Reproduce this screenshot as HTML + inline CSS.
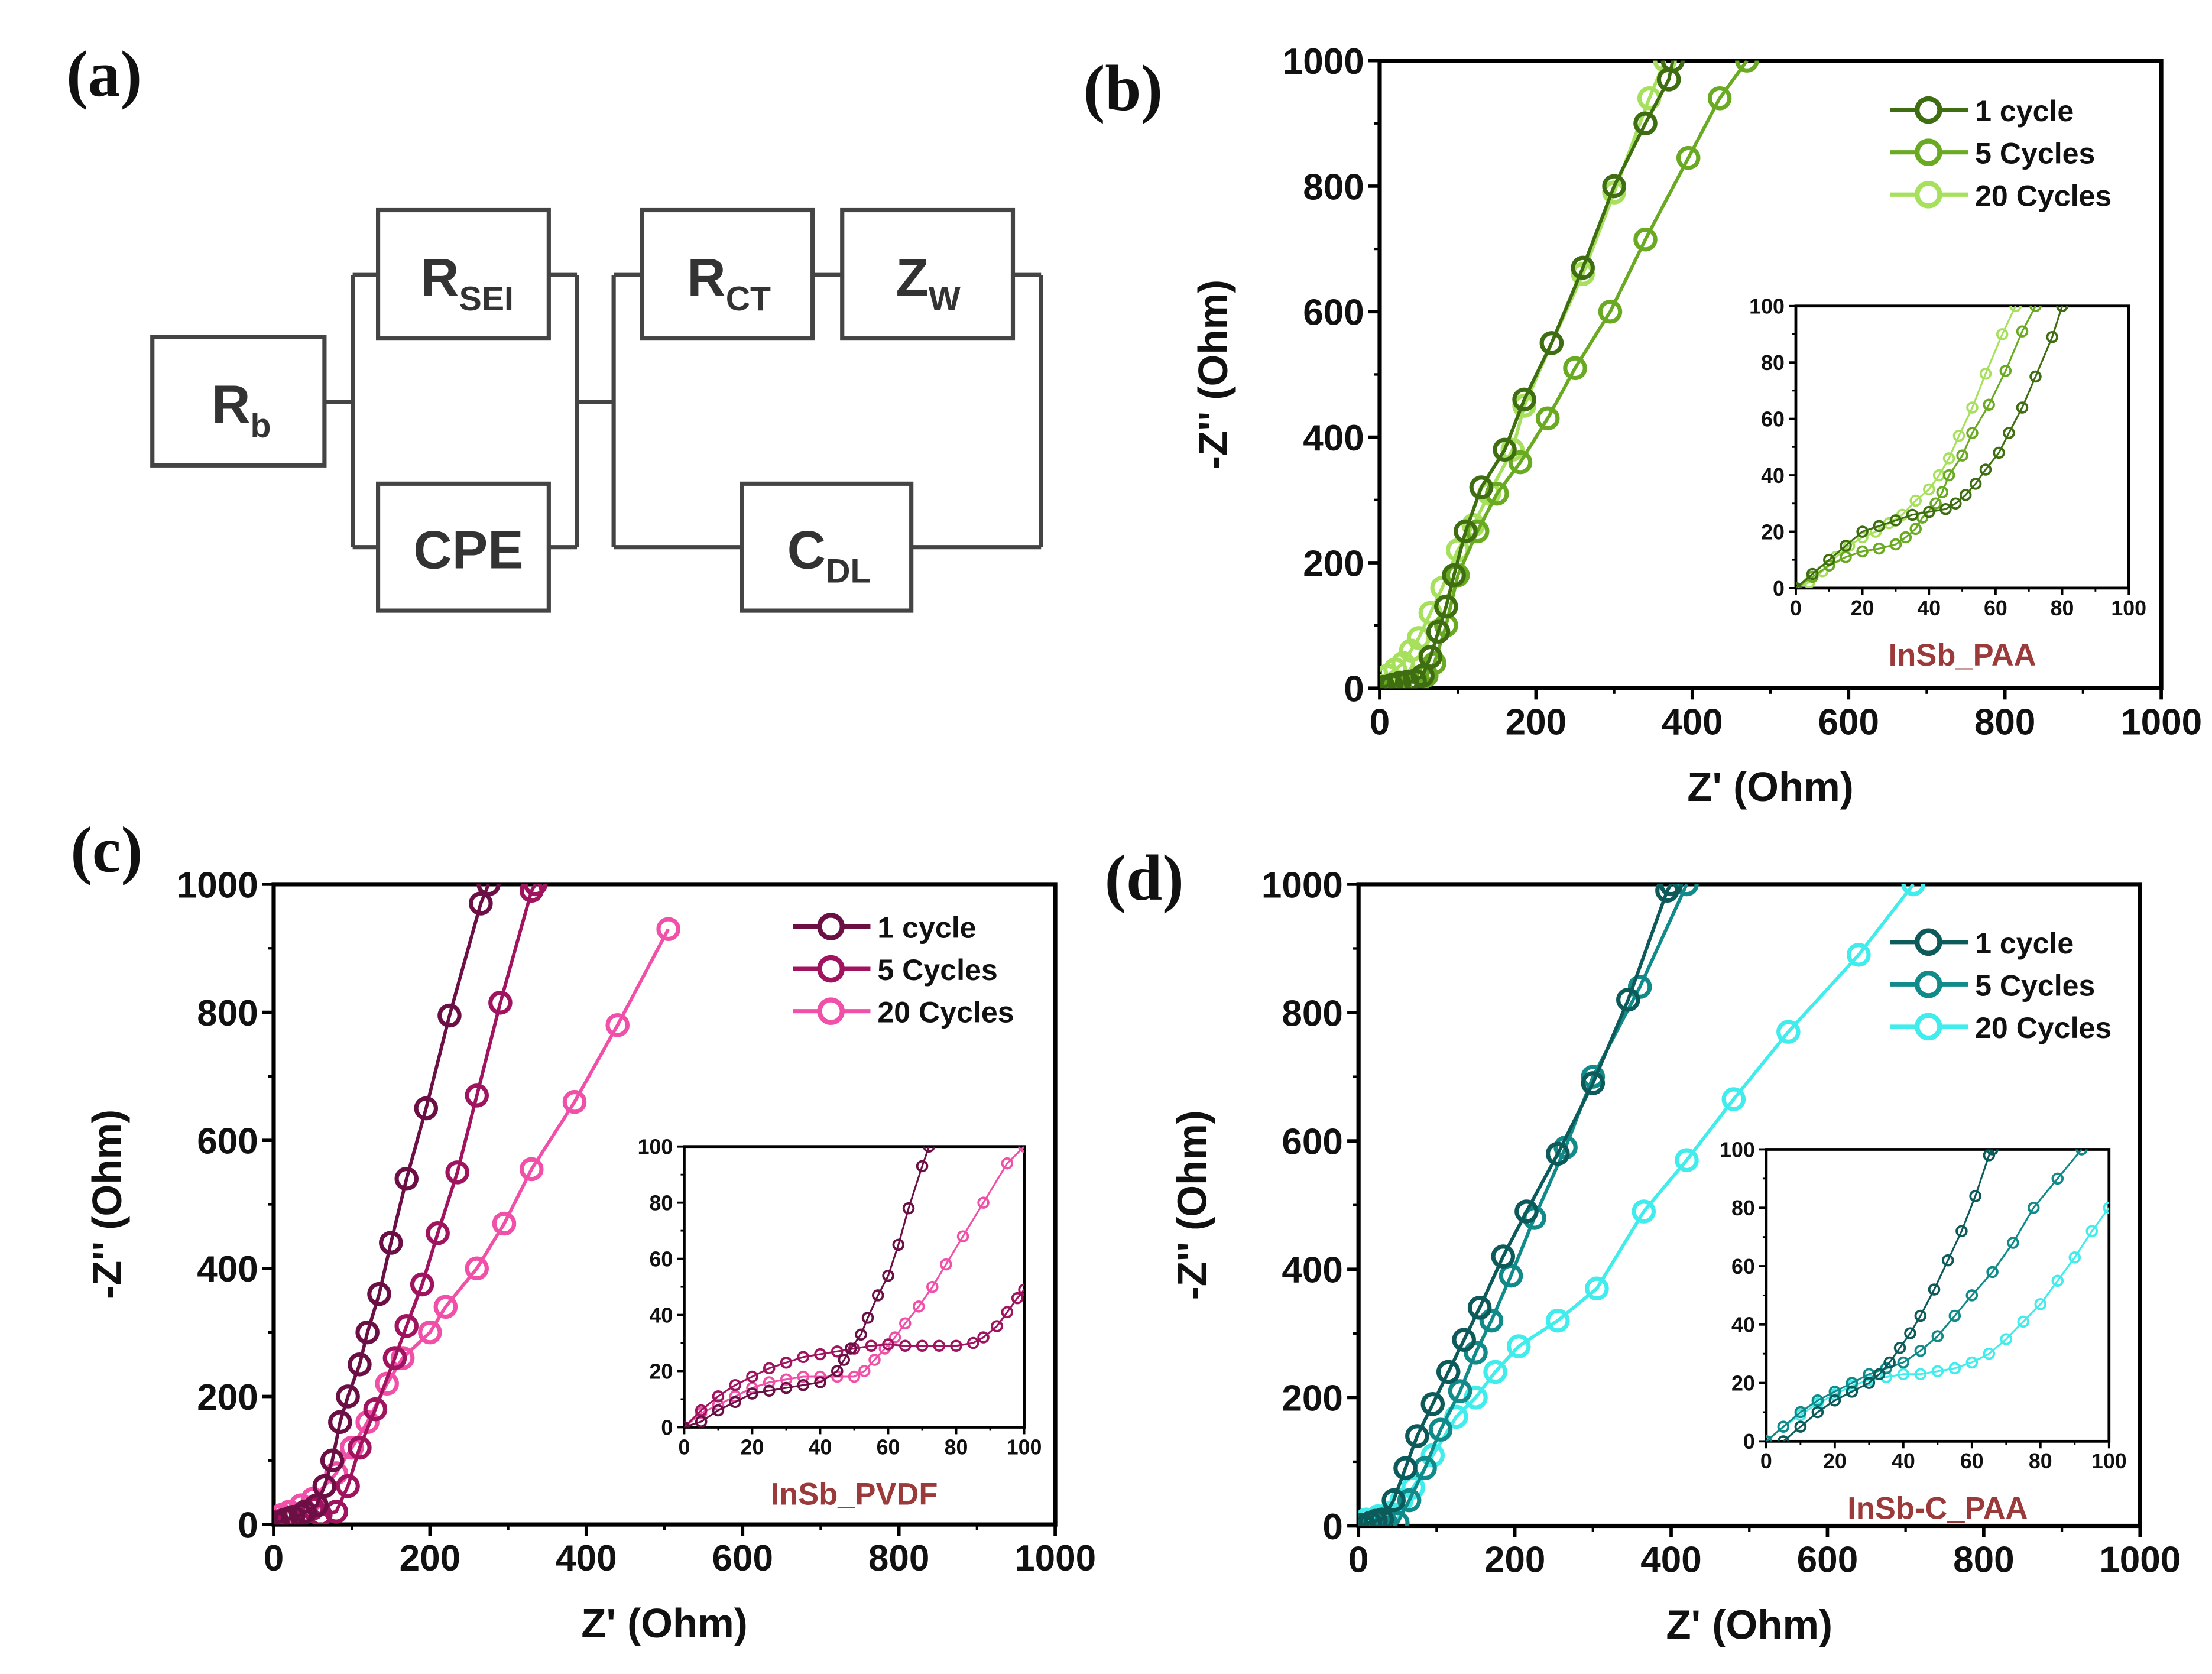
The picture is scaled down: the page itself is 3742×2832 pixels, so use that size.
<!DOCTYPE html>
<html><head><meta charset="utf-8"><style>
html,body{margin:0;padding:0;background:#fff}
svg{display:block}
text{font-family:"Liberation Sans",sans-serif;font-weight:bold}
</style></head><body>
<svg id="fig" xmlns="http://www.w3.org/2000/svg" width="3742" height="2832" viewBox="0 0 1568 1187" preserveAspectRatio="none">
<rect width="1568" height="1187" fill="#fff"/>
<g id="circuit" stroke="#444" stroke-width="3" fill="none">
<path d="M230 285H250M250 195V388M250 195H268M250 388H268M389 195H409M389 388H409M409 195V388M409 285H435M435 195V388M435 195H455M576 195H597M718 195H738M738 195V388M435 388H526M646 388H738"/>
<rect x="108" y="239" width="122" height="91"/>
<rect x="268" y="149" width="121" height="91"/>
<rect x="268" y="343" width="121" height="90"/>
<rect x="455" y="149" width="121" height="91"/>
<rect x="597" y="149" width="121" height="91"/>
<rect x="526" y="343" width="120" height="90"/>
</g>
<g fill="#333" font-size="38">
<text x="150" y="300">R<tspan font-size="24" dy="10">b</tspan></text>
<text x="298" y="210">R<tspan font-size="24" dy="10">SEI</tspan></text>
<text x="293" y="403">CPE</text>
<text x="487" y="210">R<tspan font-size="24" dy="10">CT</tspan></text>
<text x="635" y="210">Z<tspan font-size="24" dy="10">W</tspan></text>
<text x="558" y="403">C<tspan font-size="24" dy="10">DL</tspan></text>
</g>
<g font-size="46" fill="#111">
<text x="47" y="68" style="font-family:'Liberation Serif',serif">(a)</text>
<text x="768" y="78" style="font-family:'Liberation Serif',serif">(b)</text>
<text x="50" y="618" style="font-family:'Liberation Serif',serif">(c)</text>
<text x="783" y="638" style="font-family:'Liberation Serif',serif">(d)</text>
</g>
<g id="charts"></g>
</svg>
<script>
const bNames=["1 cycle","5 Cycles","20 Cycles"];
const bMain1=[[5,2],[15,5],[25,8],[35,10],[45,12],[55,20],[65,50],[75,90],[85,130],[95,180],[110,250],[130,320],[160,380],[185,460],[220,550],[260,670],[300,800],[340,900],[370,970],[375,1000]];
const bMain5=[[5,2],[20,5],[35,8],[50,10],[60,20],[70,40],[85,100],[100,180],[125,250],[150,310],[180,360],[215,430],[250,510],[295,600],[340,715],[395,845],[435,940],[470,1000]];
const bMain20=[[2,3],[10,20],[20,30],[30,40],[40,60],[50,80],[65,120],[80,160],[100,220],[120,260],[140,310],[170,380],[185,450],[220,550],[260,660],[300,790],[345,940],[365,1000]];
const bIn1=[[0,0],[5,5],[10,10],[15,15],[20,20],[25,22],[30,24],[35,26],[40,27],[45,28],[48,30],[51,33],[54,37],[57,42],[61,48],[64,55],[68,64],[72,75],[77,89],[80,100]];
const bIn5=[[0,0],[5,4],[10,8],[15,11],[20,13],[25,14],[30,15.5],[33,18],[36,21],[38,25],[42,30],[44,34],[46,40],[50,47],[53,55],[58,65],[63,77],[68,91],[72,100]];
const bIn20=[[0,0],[4,2],[8,6],[12,11],[16,15],[20,18],[24,20],[28,23],[32,26],[36,31],[40,35],[43,40],[46,46],[49,54],[53,64],[57,76],[62,90],[66,100]];
const cMain1=[[5,3],[15,8],[25,12],[35,15],[40,20],[55,30],[65,60],[75,100],[85,160],[95,200],[110,250],[120,300],[135,360],[150,440],[170,540],[195,650],[225,795],[265,970],[275,1000]];
const cMain5=[[5,5],[20,10],[35,15],[50,25],[60,15],[80,20],[95,60],[110,120],[130,180],[155,260],[170,310],[190,375],[210,455],[235,550],[260,670],[290,815],[330,990],[335,1000]];
const cMain20=[[2,5],[10,15],[20,20],[35,30],[50,40],[65,60],[80,80],[100,120],[120,160],[145,220],[165,260],[200,300],[220,340],[260,400],[295,470],[330,555],[385,660],[440,780],[505,930]];
const cIn1=[[0,0],[5,2],[10,6],[15,9],[20,12],[25,13],[30,14],[35,15],[40,16],[45,20],[47,24],[49,28],[52,33],[54,39],[57,47],[60,54],[63,65],[66,78],[70,93],[72,100]];
const cIn5=[[0,0],[5,6],[10,11],[15,15],[20,18],[25,21],[30,23],[35,25],[40,26],[45,27],[50,28],[55,29],[60,29.5],[65,29],[70,29],[75,29],[80,29],[85,30],[88,32],[92,36],[95,41],[98,46],[100,49]];
const cIn20=[[0,0],[5,5],[10,8],[15,11],[20,14],[25,16],[30,17],[35,18],[40,18],[45,18],[50,18],[53,20],[56,24],[59,28],[62,32],[65,37],[69,43],[73,50],[77,58],[82,68],[88,80],[95,94],[100,100]];
const dMain1=[[5,2],[15,5],[22,8],[30,10],[45,40],[60,90],[75,140],[95,190],[115,240],[135,290],[155,340],[185,420],[215,490],[255,580],[300,690],[345,820],[395,990],[400,1000]];
const dMain5=[[5,2],[20,4],[35,5],[50,5],[65,40],[85,90],[105,150],[130,210],[150,270],[170,320],[195,390],[225,480],[265,590],[300,700],[360,840],[420,1000]];
const dMain20=[[2,3],[10,10],[25,15],[40,20],[55,40],[70,60],[95,110],[125,170],[150,200],[175,240],[205,280],[255,320],[305,370],[365,490],[420,570],[480,665],[550,770],[640,890],[710,1000]];
const dIn1=[[5,0],[10,5],[15,10],[20,14],[25,17],[30,20],[33,23],[36,27],[39,32],[42,37],[45,43],[49,52],[53,62],[57,72],[61,84],[65,98],[66,100]];
const dIn5=[[0,0],[5,5],[10,10],[15,14],[20,17],[25,20],[30,23],[35,25],[40,27],[45,31],[50,36],[55,43],[60,50],[66,58],[72,68],[78,80],[85,90],[92,100]];
const dIn20=[[0,0],[5,5],[10,9],[15,13],[20,16],[25,19],[30,21],[35,22],[40,23],[45,23],[50,24],[55,25],[60,27],[65,30],[70,35],[75,41],[80,47],[85,55],[90,63],[95,72],[100,80]];
const mainTicks=[0,200,400,600,800,1000];
const insetTicks=[0,20,40,60,80,100];

const NS="http://www.w3.org/2000/svg";
const root=document.getElementById('charts');
function mk(tag,attrs,parent){const e=document.createElementNS(NS,tag);for(const k in attrs)e.setAttribute(k,attrs[k]);(parent||root).appendChild(e);return e;}

function axes(g,box,max,ticks,fs,lw,big,pfx){
  const sx=v=>box.x0+(box.x1-box.x0)*v/max, sy=v=>box.yb-(box.yb-box.yt)*v/max;
  const fr=mk('rect',{x:box.x0,y:box.yt,width:box.x1-box.x0,height:box.yb-box.yt,fill:'#fff',stroke:'#000','stroke-width':lw},g);
  
  
  const tl=big?8:5;
  for(let i=0;i<ticks.length;i++){
    const v=ticks[i];
    mk('line',{x1:sx(v),x2:sx(v),y1:box.yb,y2:box.yb+tl,stroke:'#000','stroke-width':lw*0.8},g);
    mk('line',{x1:box.x0,x2:box.x0-tl,y1:sy(v),y2:sy(v),stroke:'#000','stroke-width':lw*0.8},g);
    if(i<ticks.length-1){const m=(v+ticks[i+1])/2;
      mk('line',{x1:sx(m),x2:sx(m),y1:box.yb,y2:box.yb+tl/2,stroke:'#000','stroke-width':lw*0.6},g);
      mk('line',{x1:box.x0,x2:box.x0-tl/2,y1:sy(m),y2:sy(m),stroke:'#000','stroke-width':lw*0.6},g);}
    const xt=mk('text',{x:sx(v),y:box.yb+tl+fs*0.95,'font-size':fs,'text-anchor':'middle',fill:'#111'},g);
    xt.textContent=v;
    
    
    const yt=mk('text',{x:box.x0-tl-3,y:sy(v)+fs*0.36,'font-size':fs,'text-anchor':'end',fill:'#111'},g);
    yt.textContent=v;
    
    
  }
  return [sx,sy];
}
function series(g,sx,sy,data,col,r,sw,name){
  const s=mk('g',{},g);
  
  
  mk('polyline',{points:data.map(p=>sx(p[0])+','+sy(p[1])).join(' '),fill:'none',stroke:col,'stroke-width':sw*0.8},s);
  data.forEach(p=>{const c=mk('circle',{cx:sx(p[0]),cy:sy(p[1]),r:r,fill:'none',stroke:col,'stroke-width':sw},s);
    
    });
}
function panel(pfx,main,inset,sets,insets,cols,leg,inLabel){
  const g=mk('g',{});
  
  
  const clip=mk('clipPath',{id:'cm'+pfx},g);mk('rect',{x:main.x0,y:main.yt,width:main.x1-main.x0,height:main.yb-main.yt},clip);
  const [sx,sy]=axes(g,main,1000,mainTicks,26,3,true,pfx);
  const sg=mk('g',{'clip-path':'url(#cm'+pfx+')'},g);
  for(let i=2;i>=0;i--) series(sg,sx,sy,sets[i],cols[i],7,3,pfx+'-series-'+i);
  const xl=mk('text',{x:(main.x0+main.x1)/2,y:main.yb+80,'font-size':29,'text-anchor':'middle',fill:'#111'},g);
  xl.textContent="Z' (Ohm)";
  
  
  const yx=main.x0-108, yy=(main.yt+main.yb)/2;
  const yl=mk('text',{x:yx,y:yy,'font-size':29,'text-anchor':'middle',fill:'#111',transform:'rotate(-90 '+yx+' '+yy+')'},g);
  yl.textContent="-Z'' (Ohm)";
  
  
  for(let i=0;i<3;i++){
    const lg=mk('g',{},g);
    
    
    const y=leg.y+i*30;
    mk('line',{x1:leg.x,x2:leg.x+55,y1:y,y2:y,stroke:cols[i],'stroke-width':3},lg);
    mk('circle',{cx:leg.x+27,cy:y,r:8,fill:'#fff',stroke:cols[i],'stroke-width':3.5},lg);
    const t=mk('text',{x:leg.x+60,y:y+8,'font-size':21,fill:'#111'},lg);t.textContent=bNames[i];
  }
  const ig=mk('g',{},g);
  
  
  const clip2=mk('clipPath',{id:'ci'+pfx},ig);mk('rect',{x:inset.x0,y:inset.yt,width:inset.x1-inset.x0,height:inset.yb-inset.yt},clip2);
  const [ix,iy]=axes(ig,inset,100,insetTicks,15,2,false,pfx+'-inset');
  const isg=mk('g',{'clip-path':'url(#ci'+pfx+')'},ig);
  for(let i=2;i>=0;i--) series(isg,ix,iy,insets[i],cols[i],3.5,1.6,pfx+'-inset-series-'+i);
  const il=mk('text',{x:(inset.x0+inset.x1)/2,y:inset.yb+55,'font-size':22,'text-anchor':'middle',fill:'#9b3a3a'},ig);
  il.textContent=inLabel;
  
  
}
panel('b',{x0:978,x1:1532,yb:488,yt:43},{x0:1273,x1:1509,yb:417,yt:217},[bMain1,bMain5,bMain20],[bIn1,bIn5,bIn20],['#3f6e12','#6aaa22','#a6e05c'],{x:1340,y:78},'InSb_PAA');
panel('c',{x0:194,x1:748,yb:1081,yt:627},{x0:485,x1:726,yb:1012,yt:813},[cMain1,cMain5,cMain20],[cIn1,cIn5,cIn20],['#6b0f45','#a0135f','#f050a8'],{x:562,y:657},'InSb_PVDF');
panel('d',{x0:963,x1:1517,yb:1082,yt:627},{x0:1252,x1:1495,yb:1022,yt:815},[dMain1,dMain5,dMain20],[dIn1,dIn5,dIn20],['#0d5a5a','#118a8a','#40ecec'],{x:1340,y:668},'InSb-C_PAA');
</script>
</body></html>
